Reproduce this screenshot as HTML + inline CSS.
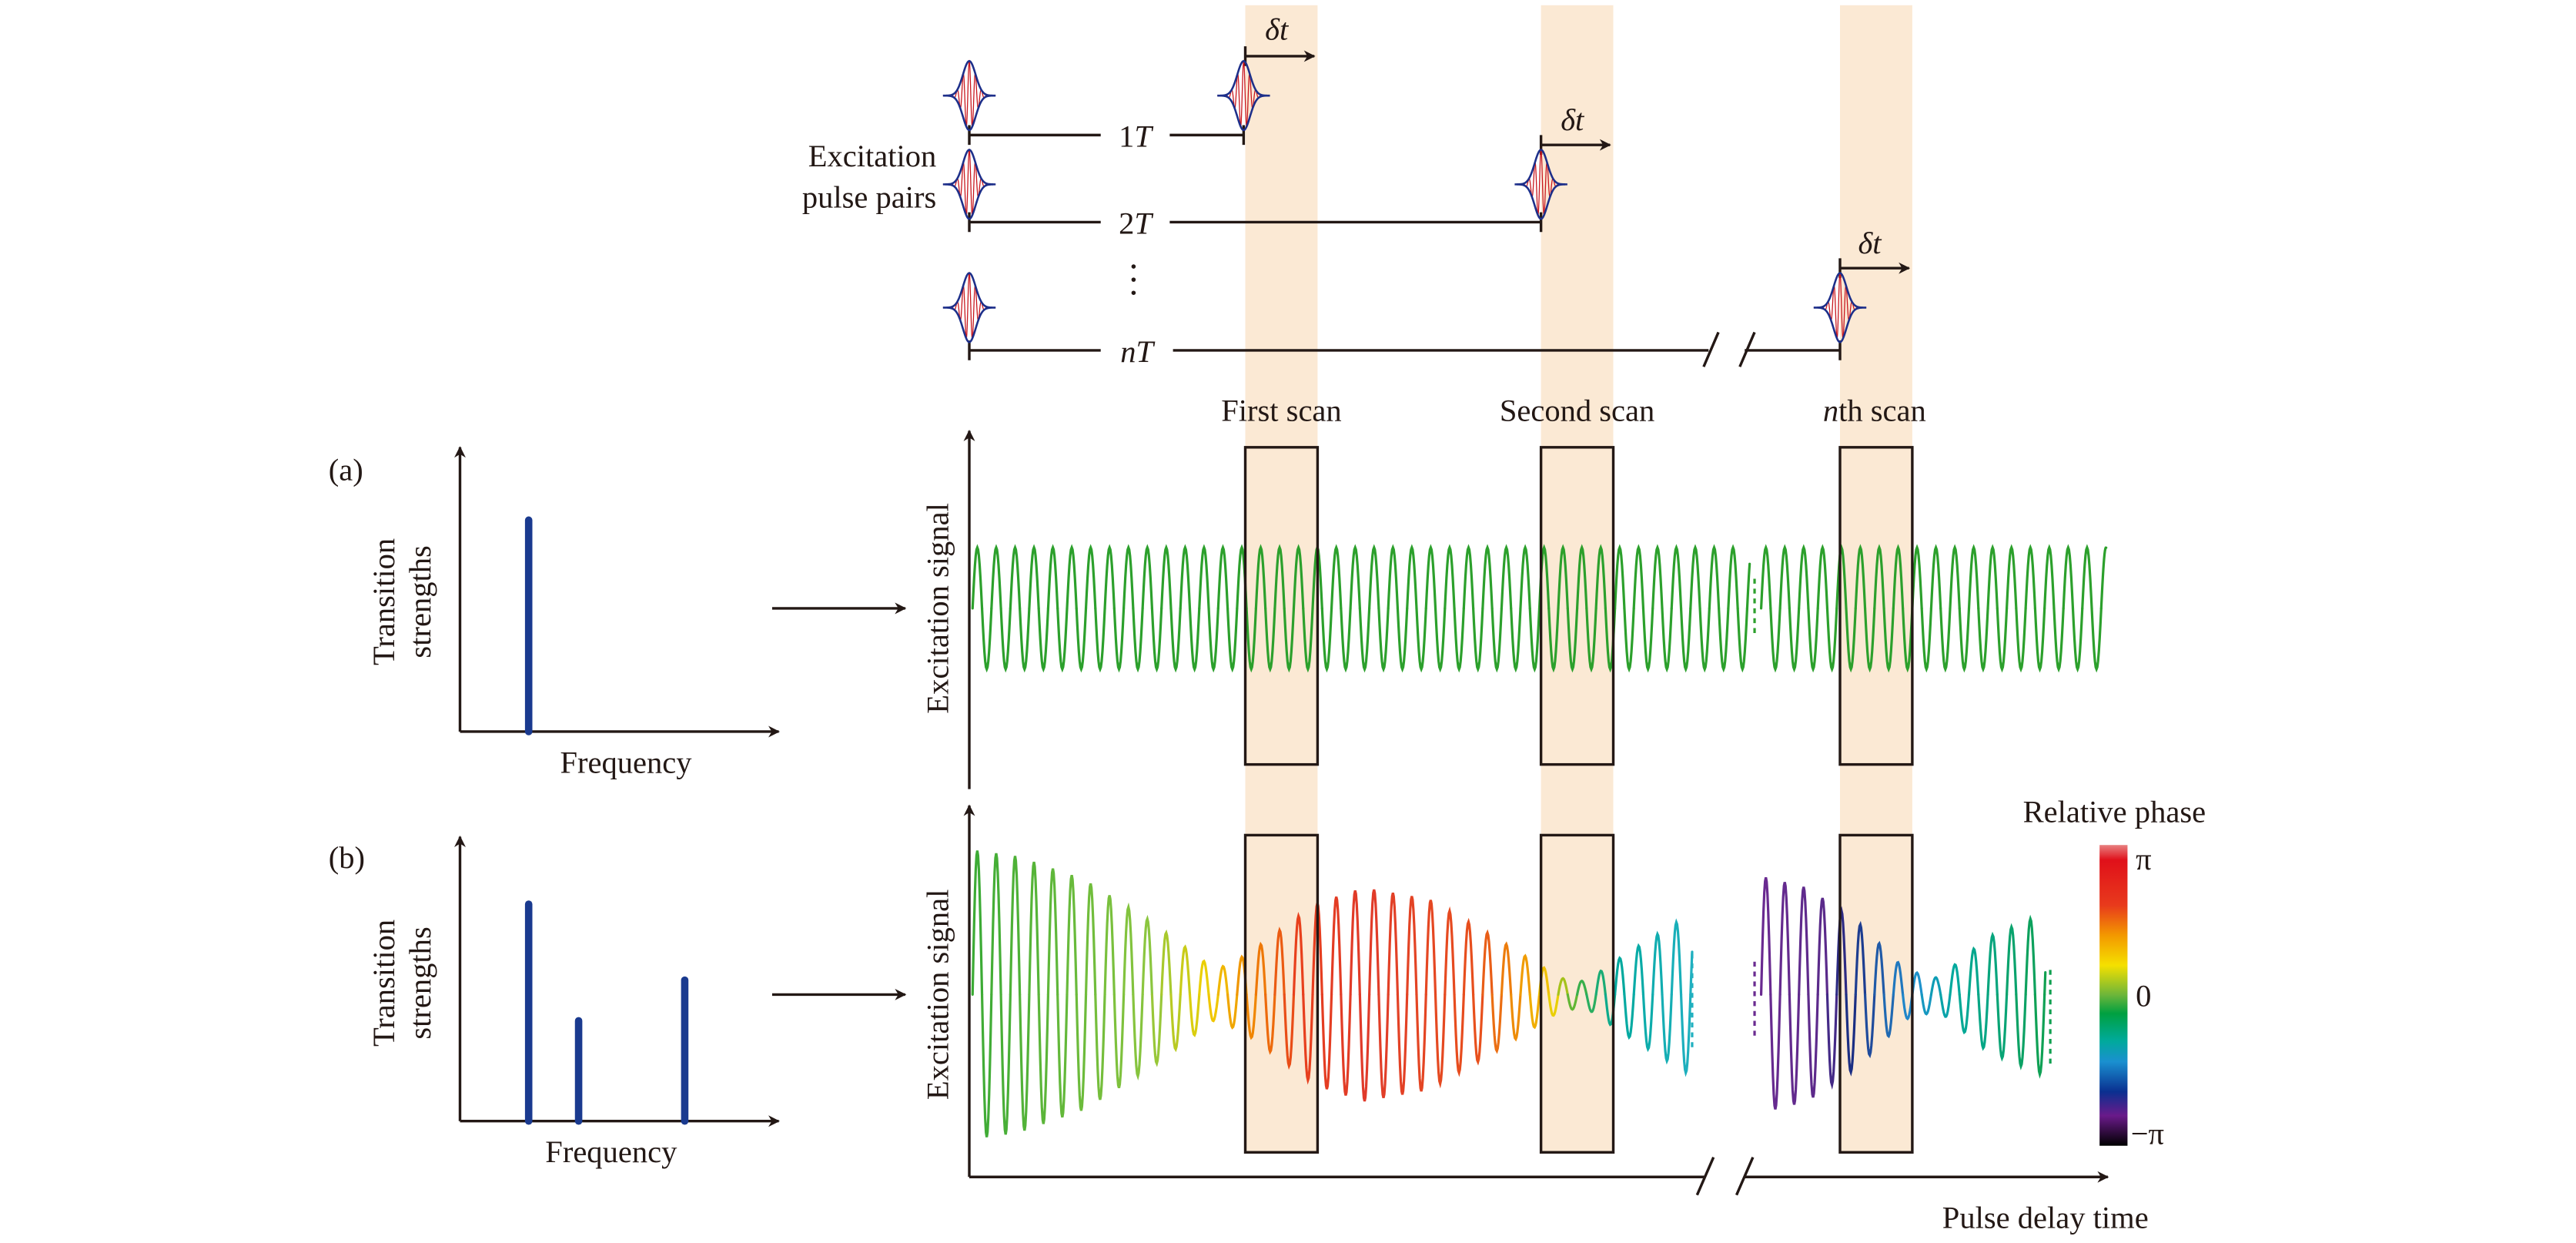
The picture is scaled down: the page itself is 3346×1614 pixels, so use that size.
<!DOCTYPE html>
<html><head><meta charset="utf-8"><style>
html,body{margin:0;padding:0;background:#fff}
svg{display:block}
text{font-family:"Liberation Serif",serif;fill:#231815}
</style></head><body>
<svg id="fig" width="3346" height="1614" viewBox="0 0 1568 756" xmlns="http://www.w3.org/2000/svg">
<defs>
<marker id="ah" viewBox="0 0 10 10" refX="9" refY="5" markerWidth="7" markerHeight="7" orient="auto" markerUnits="userSpaceOnUse"><path d="M0,0 L10,5 L0,10 L3,5 Z" fill="#231815"/></marker>
<linearGradient id="cbg" x1="0" y1="0" x2="0" y2="1">
<stop offset="0" stop-color="#e88080"/><stop offset="0.05" stop-color="#e0101a"/><stop offset="0.2" stop-color="#e83a1c"/><stop offset="0.3" stop-color="#f39800"/><stop offset="0.4" stop-color="#f5e000"/><stop offset="0.5" stop-color="#6ab53a"/><stop offset="0.56" stop-color="#00a040"/><stop offset="0.65" stop-color="#00aa9a"/><stop offset="0.72" stop-color="#1a90d0"/><stop offset="0.82" stop-color="#0a3090"/><stop offset="0.9" stop-color="#6a1a8a"/><stop offset="1" stop-color="#000"/>
</linearGradient>
</defs>
<g id="bands">
<rect x="758" y="3" width="44" height="698" fill="#fbe9d4"/>
<rect x="938" y="3" width="44" height="698" fill="#fbe9d4"/>
<rect x="1120" y="3" width="44" height="698" fill="#fbe9d4"/>
</g>
<g id="top" stroke="#231815" stroke-width="1.6" fill="none">
<path d="M590,76v12 M590,82H670 M712,82H757 M757,76v12"/>
<path d="M590,129v12 M590,135H670 M712,135H938 M938,129v12"/>
<path d="M590,207v12 M590,213H670 M714,213H1040 M1062,213H1120 M1120,207v12"/>
<path d="M1037,223 L1046,202 M1059,223 L1068,202"/>
<path d="M758,28v12 M758,34H800" marker-end="url(#ah)"/>
<path d="M938,82v12 M938,88H980" marker-end="url(#ah)"/>
<path d="M1120,157v12 M1120,163H1162" marker-end="url(#ah)"/>
</g>
<g id="dots" fill="#231815"><circle cx="690" cy="162" r="1.3"/><circle cx="690" cy="170" r="1.3"/><circle cx="690" cy="178" r="1.3"/></g>
<g id="pulses"></g>
<text x="691" y="89" font-size="19" text-anchor="middle">1<tspan font-style="italic">T</tspan></text>
<text x="691" y="142" font-size="19" text-anchor="middle">2<tspan font-style="italic">T</tspan></text>
<text x="692" y="220" font-size="19" text-anchor="middle" font-style="italic">nT</text>
<text x="770" y="24" font-size="19" font-style="italic">δt</text>
<text x="950" y="79" font-size="19" font-style="italic">δt</text>
<text x="1131" y="154" font-size="19" font-style="italic">δt</text>
<text font-size="19" text-anchor="end"><tspan x="570" y="101">Excitation</tspan><tspan x="570" y="126">pulse pairs</tspan></text>
<text x="780" y="256" font-size="19" text-anchor="middle">First scan</text>
<text x="960" y="256" font-size="19" text-anchor="middle">Second scan</text>
<text x="1141" y="256" font-size="19" text-anchor="middle"><tspan font-style="italic">n</tspan>th scan</text>

<g id="spectra" stroke="#231815" stroke-width="1.6" fill="none">
<path d="M280,445V272" marker-end="url(#ah)"/><path d="M280,445H474" marker-end="url(#ah)"/>
<path d="M280,682V509" marker-end="url(#ah)"/><path d="M280,682H474" marker-end="url(#ah)"/>
<path d="M470,370H551" marker-end="url(#ah)"/><path d="M470,605H551" marker-end="url(#ah)"/>
</g>
<g id="bars"></g>
<text x="200" y="292" font-size="19">(a)</text>
<text x="200" y="528" font-size="19">(b)</text>
<text transform="translate(240,366) rotate(-90)" font-size="19" text-anchor="middle"><tspan x="0" y="0">Transition</tspan><tspan x="0" y="22">strengths</tspan></text>
<text transform="translate(240,598) rotate(-90)" font-size="19" text-anchor="middle"><tspan x="0" y="0">Transition</tspan><tspan x="0" y="22">strengths</tspan></text>
<text x="381" y="470" font-size="19" text-anchor="middle">Frequency</text>
<text x="372" y="707" font-size="19" text-anchor="middle">Frequency</text>

<g id="axes" stroke="#231815" stroke-width="1.6" fill="none">
<path d="M590,480V262" marker-end="url(#ah)"/>
<path d="M590,716V490" marker-end="url(#ah)"/>
<path d="M590,716H1038 M1062,716H1283" marker-end="url(#ah)"/>
<path d="M1033,727 L1043,704 M1057,727 L1067,704"/>
</g>
<text transform="translate(577,370) rotate(-90)" font-size="19" text-anchor="middle">Excitation signal</text>
<text transform="translate(577,605) rotate(-90)" font-size="19" text-anchor="middle">Excitation signal</text>
<text x="1245" y="747" font-size="19" text-anchor="middle">Pulse delay time</text>
<g id="waves"></g>
<g id="boxes" fill="none" stroke="#231815" stroke-width="1.6">
<rect x="758" y="272" width="44" height="193"/>
<rect x="938" y="272" width="44" height="193"/>
<rect x="1120" y="272" width="44" height="193"/>
<rect x="758" y="508" width="44" height="193"/>
<rect x="938" y="508" width="44" height="193"/>
<rect x="1120" y="508" width="44" height="193"/>
</g>
<rect x="1278" y="514" width="17" height="183" fill="url(#cbg)"/>
<text x="1287" y="500" font-size="19" text-anchor="middle">Relative phase</text>
<text x="1300" y="529" font-size="19">π</text>
<text x="1300" y="612" font-size="19">0</text>
<text x="1297" y="696" font-size="19">−π</text>
</svg>
<script>
const NS='http://www.w3.org/2000/svg';
// bar data (relative strength 0..1)
const barFreqA=[0.22];
const barStrA=[0.78];
const barFreqB=[0.22,0.38,0.72];
const barStrB=[0.8,0.37,0.52];
// panel b envelope/phase keypoints (segment 1 and 2)
const seg1X=[592,620,660,700,740,760,800,830,870,910,950,965,990,1030];
const seg1Amp=[88,84,70,45,15,25,55,65,58,35,10,8,25,50];
const seg1ColX=[592,700,735,760,790,830,900,930,945,960,985,1030];
const seg1Col=['#3aaa35','#8cc63f','#f0d000','#f08a00','#e8401c','#e03a2a','#e8501c','#f0a000','#f0d000','#40b040','#00a99d','#20b0c0'];
const seg2X=[1072,1100,1130,1160,1180,1210,1245];
const seg2Amp=[72,65,45,15,10,35,50];
const seg2ColX=[1072,1110,1125,1140,1165,1190,1245];
const seg2Col=['#6a2a90','#5a2a8a','#1a2a80','#2050a0','#2090d0','#00a99d','#10a050'];
const ampA=37;

function interp(xs,ys,x){if(x<=xs[0])return ys[0];for(let i=1;i<xs.length;i++){if(x<=xs[i]){const t=(x-xs[i-1])/(xs[i]-xs[i-1]);return ys[i-1]+t*(ys[i]-ys[i-1]);}}return ys[ys.length-1];}
function hex(c){return [1,3,5].map(i=>parseInt(c.substr(i,2),16));}
function colAt(xs,cs,x){let i=1;while(i<xs.length-1&&x>xs[i])i++;const t=Math.max(0,Math.min(1,(x-xs[i-1])/(xs[i]-xs[i-1])));const a=hex(cs[i-1]),b=hex(cs[i]);return 'rgb('+a.map((v,k)=>Math.round(v+t*(b[k]-v))).join(',')+')';}

// bars
const bars=document.getElementById('bars');
function drawBars(fr,st,x0,y0,w,h){fr.forEach((f,i)=>{const l=document.createElementNS(NS,'line');


const x=x0+f*w;l.setAttribute('x1',x);l.setAttribute('x2',x);l.setAttribute('y1',y0);l.setAttribute('y2',y0-st[i]*h);l.setAttribute('stroke','#1a3a8f');l.setAttribute('stroke-width','4.5');l.setAttribute('stroke-linecap','round');bars.appendChild(l);});}
drawBars(barFreqA,barStrA,280,445,190,165);
drawBars(barFreqB,barStrB,280,682,190,165);

// pulses: time horizontal, Gaussian envelope vertical
const pulses=document.getElementById('pulses');
[[590,58],[757,58],[590,112],[938,112],[590,187],[1120,187]].forEach(p=>{
const g=document.createElementNS(NS,'g');


let env='',car='';
const E=k=>21*Math.exp(-(k*k)/30);
for(let k=-16;k<=16.001;k+=0.25){env+=(k==-16?'M':'L')+(p[0]+k).toFixed(2)+','+(p[1]-E(k)).toFixed(2);}
for(let k=16;k>=-16.001;k-=0.25){env+='L'+(p[0]+k).toFixed(2)+','+(p[1]+E(k)).toFixed(2);}
for(let k=-16;k<=16.001;k+=0.1){car+=(k==-16?'M':'L')+(p[0]+k).toFixed(2)+','+(p[1]-E(k)*Math.cos(k*1.7)).toFixed(2);}
g.innerHTML='<path d="'+car+'" stroke="#c8161d" stroke-width="0.6" fill="none"/><path d="'+env+'Z" stroke="#1d2f8a" stroke-width="1.2" fill="none"/>';
pulses.appendChild(g);});

// waves
const waves=document.getElementById('waves');
const P=11.5;
function wave(x0,x1,cy,ampF,colF,name){
for(let x=x0;x<x1;x+=P/2){const seg=document.createElementNS(NS,'path');


const xe=Math.min(x+P/2,x1);let d='';
const n=12;for(let j=0;j<=n;j++){const xx=x+(xe-x)*j/n;const y=cy-ampF(xx)*Math.sin(2*Math.PI*(xx-x0)/P);d+=(j?'L':'M')+xx.toFixed(2)+','+y.toFixed(2);}
seg.setAttribute('d',d);seg.setAttribute('fill','none');seg.setAttribute('stroke',colF(x+P/4));seg.setAttribute('stroke-width','1.5');seg.setAttribute('stroke-linecap','round');waves.appendChild(seg);}}
wave(592,1065,370,()=>ampA,()=>'#2ca02c','wave-a');
wave(1072,1282,370,()=>ampA,()=>'#2ca02c','wave-a');
wave(592,1030,605,x=>interp(seg1X,seg1Amp,x),x=>colAt(seg1ColX,seg1Col,x),'wave-b-segment1');
wave(1072,1245,605,x=>interp(seg2X,seg2Amp,x),x=>colAt(seg2ColX,seg2Col,x),'wave-b-segment2');
// dashed break marks
[[1068,352,388,'#2ca02c'],[1030,580,640,'#20b0c0'],[1068,585,630,'#6a2a90'],[1248,590,650,'#10a050']].forEach(b=>{const l=document.createElementNS(NS,'line');


l.setAttribute('x1',b[0]);l.setAttribute('x2',b[0]);l.setAttribute('y1',b[1]);l.setAttribute('y2',b[2]);l.setAttribute('stroke',b[3]);l.setAttribute('stroke-width','1.5');l.setAttribute('stroke-dasharray','3,3');waves.appendChild(l);});
</script>
</body></html>
